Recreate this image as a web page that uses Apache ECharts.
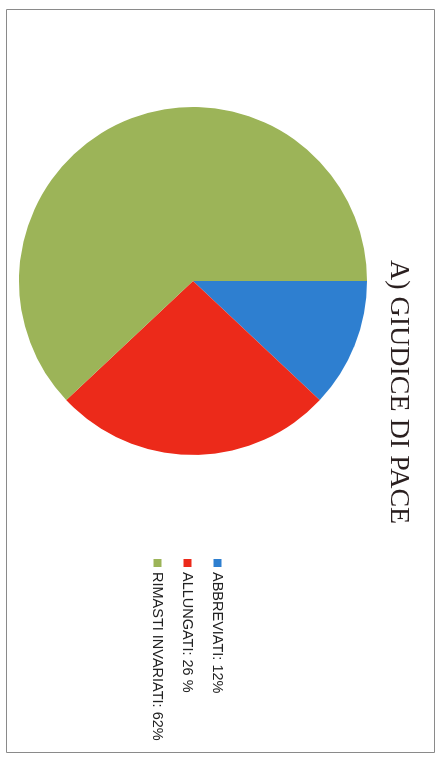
<!DOCTYPE html>
<html>
<head>
<meta charset="utf-8">
<script src="https://cdn.jsdelivr.net/npm/echarts@6/dist/echarts.min.js"></script>
<style>
  html, body { margin: 0; padding: 0; background: #ffffff; width: 438px; height: 760px; overflow: hidden; }
  #chart {
    position: absolute; left: 0; top: 0;
    width: 760px; height: 438px;
    transform-origin: 0 0;
    transform: translate(438px, 0) rotate(90deg);
  }
</style>
</head>
<body>
<div id="chart"></div>
<script>
const titleText = 'A) GIUDICE DI PACE';
const categories = ['ABBREVIATI', 'ALLUNGATI', 'RIMASTI INVARIATI'];
const values = [12, 26, 62];
const legendLabels = ['ABBREVIATI: 12%', 'ALLUNGATI: 26 %', 'RIMASTI INVARIATI: 62%'];
const colors = ['#2e7fd0', '#ec2a1a', '#9cb458'];

const chart = echarts.init(document.getElementById('chart'), null, { renderer: 'canvas' });
chart.setOption({
  animation: false,
  backgroundColor: '#ffffff',
  color: colors,
  graphic: [{
    type: 'rect',
    shape: { x: 9.5, y: 3.5, width: 743, height: 428 },
    style: { fill: 'none', stroke: '#8a8a8a', lineWidth: 1 },
    silent: true
  }],
  title: {
    text: titleText,
    left: 255,
    top: 21,
    textStyle: { fontFamily: 'Liberation Serif', fontWeight: 'normal', fontSize: 28, color: '#2a1f1f' }
  },
  legend: {
    orient: 'vertical',
    left: 554,
    top: 208,
    icon: 'rect',
    itemWidth: 8,
    itemHeight: 8,
    itemGap: 15,
    data: categories,
    formatter: function (name) { return legendLabels[categories.indexOf(name)]; },
    textStyle: { fontFamily: 'Liberation Sans', fontSize: 14.5, color: '#222222' }
  },
  series: [{
    type: 'pie',
    center: [281, 245],
    radius: 174,
    startAngle: 90,
    clockwise: true,
    label: { show: false },
    labelLine: { show: false },
    emphasis: { disabled: true },
    data: categories.map((c, i) => ({ name: c, value: values[i] }))
  }]
});
</script>
</body>
</html>
